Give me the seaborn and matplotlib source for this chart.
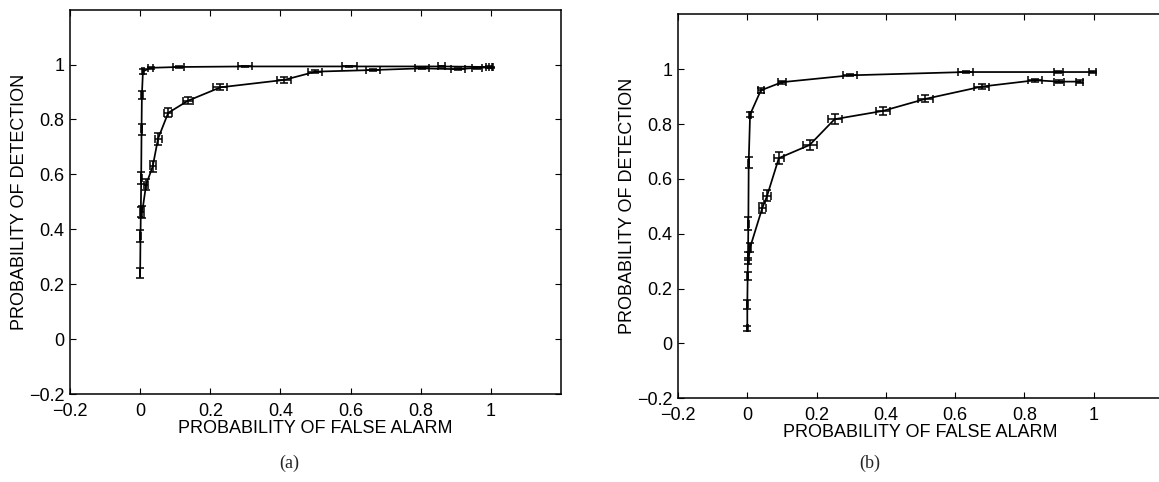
import numpy as np
import pandas as pd
import matplotlib
matplotlib.use("Agg")
import matplotlib.pyplot as plt
import seaborn as sns

# ---- ROC data: panel (a) ----
a_upper_pfa = [0.000, 0.001, 0.002, 0.003, 0.004, 0.005, 0.008, 0.030, 0.110, 0.300, 0.597, 0.860, 0.995]
a_upper_pd = [0.240, 0.376, 0.464, 0.588, 0.765, 0.889, 0.975, 0.988, 0.991, 0.993, 0.993, 0.993, 0.991]
a_upper_pfa_err = [0.001, 0.001, 0.001, 0.001, 0.002, 0.002, 0.003, 0.008, 0.015, 0.020, 0.021, 0.010, 0.008]
a_upper_pd_err = [0.018, 0.021, 0.018, 0.021, 0.020, 0.015, 0.008, 0.003, 0.002, 0.002, 0.002, 0.002, 0.002]

a_lower_pfa = [0.006, 0.017, 0.036, 0.051, 0.080, 0.136, 0.229, 0.411, 0.500, 0.665, 0.803, 0.907, 0.960, 1.000]
a_lower_pd = [0.464, 0.563, 0.630, 0.730, 0.824, 0.868, 0.917, 0.944, 0.974, 0.980, 0.986, 0.983, 0.988, 0.990]
a_lower_pfa_err = [0.004, 0.006, 0.008, 0.010, 0.012, 0.015, 0.020, 0.020, 0.020, 0.020, 0.020, 0.020, 0.015, 0.005]
a_lower_pd_err = [0.022, 0.020, 0.020, 0.022, 0.016, 0.012, 0.011, 0.011, 0.006, 0.004, 0.004, 0.004, 0.003, 0.002]

# ---- ROC data: panel (b) ----
b_upper_pfa = [0.000, 0.000, 0.001, 0.002, 0.003, 0.004, 0.008, 0.039, 0.100, 0.297, 0.630, 0.898, 0.997]
b_upper_pd = [0.056, 0.143, 0.247, 0.320, 0.437, 0.660, 0.835, 0.923, 0.953, 0.978, 0.990, 0.990, 0.990]
b_upper_pfa_err = [0.001, 0.001, 0.001, 0.001, 0.001, 0.002, 0.003, 0.008, 0.012, 0.020, 0.022, 0.012, 0.010]
b_upper_pd_err = [0.009, 0.016, 0.015, 0.015, 0.023, 0.020, 0.010, 0.008, 0.005, 0.003, 0.002, 0.002, 0.002]

b_lower_pfa = [0.003, 0.008, 0.043, 0.057, 0.091, 0.180, 0.252, 0.391, 0.514, 0.677, 0.831, 0.900, 0.960]
b_lower_pd = [0.300, 0.350, 0.493, 0.538, 0.676, 0.724, 0.818, 0.848, 0.892, 0.937, 0.960, 0.955, 0.955]
b_lower_pfa_err = [0.002, 0.004, 0.010, 0.012, 0.015, 0.020, 0.020, 0.020, 0.022, 0.022, 0.020, 0.015, 0.010]
b_lower_pd_err = [0.010, 0.015, 0.019, 0.020, 0.021, 0.019, 0.018, 0.016, 0.013, 0.010, 0.006, 0.006, 0.005]

tick_values = [-0.2, 0.0, 0.2, 0.4, 0.6, 0.8, 1.0]
tick_labels = ["\u22120.2", "0", "0.2", "0.4", "0.6", "0.8", "1"]
x_label = "PROBABILITY OF FALSE ALARM"
y_label = "PROBABILITY OF DETECTION"
panel_captions = ["(a)", "(b)"]

sns.set_style("ticks", {"xtick.direction": "in", "ytick.direction": "in"})
plt.rcParams["font.family"] = ["Liberation Sans", "DejaVu Sans"]
plt.rcParams["axes.linewidth"] = 1.1

fig = plt.figure(figsize=(11.59, 4.82), dpi=100)
ax_a = fig.add_axes([0.0604, 0.1819, 0.4236, 0.7983])
ax_b = fig.add_axes([0.5850, 0.1737, 0.4185, 0.7963])


def draw_curve(ax, pfa, pd_, pfa_err, pd_err):
    frame = pd.DataFrame({"pfa": pfa, "pd": pd_})
    sns.lineplot(data=frame, x="pfa", y="pd", sort=False, estimator=None,
                 color="black", linewidth=1.25, ax=ax, legend=False)
    ax.errorbar(pfa, pd_, xerr=pfa_err, yerr=pd_err, fmt="none",
                ecolor="black", elinewidth=1.1, capsize=2.8, capthick=1.1)


def style_axes(ax, right_ticks=True):
    ax.set_xlim(-0.2, 1.2)
    ax.set_ylim(-0.2, 1.2)
    ax.set_xticks(tick_values, tick_labels)
    ax.set_yticks(tick_values, tick_labels)
    ax.tick_params(axis="both", which="major", direction="in", length=4,
                   width=0.8, labelsize=13, top=True, right=right_ticks,
                   color="black", labelcolor="black")
    ax.tick_params(axis="x", pad=6.5)
    ax.tick_params(axis="y", pad=4)
    ax.set_xlabel(x_label, fontsize=13, labelpad=0, color="black")
    ax.set_ylabel(y_label, fontsize=13, labelpad=1, color="black")
    for s in ax.spines.values():
        s.set_visible(True)
        s.set_color("black")


draw_curve(ax_a, a_upper_pfa, a_upper_pd, a_upper_pfa_err, a_upper_pd_err)
draw_curve(ax_a, a_lower_pfa, a_lower_pd, a_lower_pfa_err, a_lower_pd_err)
draw_curve(ax_b, b_upper_pfa, b_upper_pd, b_upper_pfa_err, b_upper_pd_err)
draw_curve(ax_b, b_lower_pfa, b_lower_pd, b_lower_pfa_err, b_lower_pd_err)

style_axes(ax_a)
style_axes(ax_b, right_ticks=False)

fig.text(0.25, 0.039, panel_captions[0], ha="center", va="center",
         fontsize=13, family=["Liberation Serif", "DejaVu Serif"])
fig.text(0.75, 0.039, panel_captions[1], ha="center", va="center",
         fontsize=13, family=["Liberation Serif", "DejaVu Serif"])

fig.savefig("out.png", dpi=100, facecolor="white")
